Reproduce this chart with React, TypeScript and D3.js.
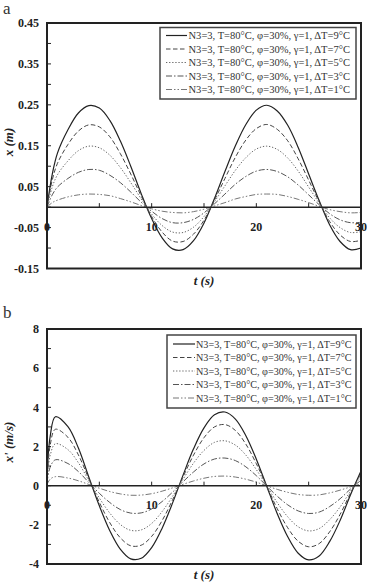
import React from "react";
import * as d3 from "d3";

// ---------- Data ----------
const TA = [0, 0.5, 1, 2, 3, 4, 5, 6, 7, 8, 9, 10, 11, 12, 13, 14, 15, 16, 17, 18, 19, 20, 21, 22, 23, 24, 25, 26, 27, 28, 29, 30];
const TB = [0, 0.3, 0.8, 2, 3, 4, 5, 6, 7, 8, 9, 10, 11, 12, 13, 14, 15, 16, 17, 18, 19, 20, 21, 22, 23, 24, 25, 26, 27, 28, 29, 30];

const LEGEND_LABELS = [
  "N3=3, T=80°C, φ=30%, γ=1, ΔT=9°C",
  "N3=3, T=80°C, φ=30%, γ=1, ΔT=7°C",
  "N3=3, T=80°C, φ=30%, γ=1, ΔT=5°C",
  "N3=3, T=80°C, φ=30%, γ=1, ΔT=3°C",
  "N3=3, T=80°C, φ=30%, γ=1, ΔT=1°C",
];

// displacement x (m)
const xDT9 = [0, 0.08, 0.132, 0.189, 0.23, 0.248, 0.242, 0.212, 0.162, 0.1, 0.033, -0.028, -0.075, -0.102, -0.104, -0.082, -0.039, 0.021, 0.087, 0.15, 0.202, 0.237, 0.249, 0.235, 0.2, 0.146, 0.081, 0.016, -0.043, -0.084, -0.104, -0.1];
const xDT7 = [0, 0.066, 0.107, 0.153, 0.186, 0.201, 0.196, 0.172, 0.131, 0.081, 0.027, -0.023, -0.061, -0.083, -0.084, -0.066, -0.032, 0.017, 0.07, 0.122, 0.164, 0.192, 0.202, 0.19, 0.162, 0.118, 0.066, 0.013, -0.035, -0.068, -0.084, -0.081];
const xDT5 = [0, 0.049, 0.079, 0.113, 0.138, 0.149, 0.145, 0.127, 0.097, 0.06, 0.02, -0.017, -0.045, -0.061, -0.062, -0.049, -0.023, 0.013, 0.052, 0.09, 0.121, 0.142, 0.149, 0.141, 0.12, 0.088, 0.049, 0.01, -0.026, -0.05, -0.062, -0.06];
const xDT3 = [0, 0.03, 0.049, 0.07, 0.085, 0.092, 0.09, 0.078, 0.06, 0.037, 0.012, -0.01, -0.028, -0.038, -0.038, -0.03, -0.014, 0.008, 0.032, 0.056, 0.075, 0.088, 0.092, 0.087, 0.074, 0.054, 0.03, 0.006, -0.016, -0.031, -0.038, -0.037];
const xDT1 = [0, 0.011, 0.017, 0.025, 0.03, 0.032, 0.031, 0.028, 0.021, 0.013, 0.004, -0.004, -0.01, -0.013, -0.014, -0.011, -0.005, 0.003, 0.011, 0.02, 0.026, 0.031, 0.032, 0.031, 0.026, 0.019, 0.011, 0.002, -0.006, -0.011, -0.014, -0.013];

// velocity x' (m/s)
const vDT9 = [0.4, 2.5, 3.52, 3.01, 1.92, 0.43, -1.03, -2.3, -3.24, -3.74, -3.71, -3.16, -2.17, -0.88, 0.54, 1.88, 2.95, 3.62, 3.76, 3.4, 2.55, 1.35, -0.04, -1.43, -2.61, -3.45, -3.79, -3.59, -2.86, -1.78, -0.46, 0.75];
const vDT7 = [0.33, 2.05, 2.88, 2.47, 1.57, 0.35, -0.85, -1.89, -2.66, -3.07, -3.04, -2.59, -1.78, -0.72, 0.45, 1.56, 2.45, 3.0, 3.12, 2.82, 2.12, 1.12, -0.03, -1.18, -2.15, -2.84, -3.12, -2.96, -2.36, -1.47, -0.38, 0.62];
const vDT5 = [0.24, 1.53, 2.14, 1.84, 1.17, 0.26, -0.63, -1.4, -1.98, -2.28, -2.26, -1.93, -1.32, -0.54, 0.33, 1.15, 1.8, 2.21, 2.29, 2.07, 1.56, 0.82, -0.02, -0.87, -1.59, -2.1, -2.31, -2.19, -1.74, -1.09, -0.28, 0.46];
const vDT3 = [0.15, 0.94, 1.32, 1.13, 0.72, 0.16, -0.39, -0.86, -1.22, -1.4, -1.39, -1.19, -0.81, -0.33, 0.2, 0.7, 1.11, 1.36, 1.41, 1.28, 0.96, 0.51, -0.02, -0.54, -0.98, -1.29, -1.42, -1.35, -1.07, -0.67, -0.17, 0.28];
const vDT1 = [0.05, 0.33, 0.46, 0.39, 0.25, 0.06, -0.13, -0.3, -0.42, -0.49, -0.48, -0.41, -0.28, -0.11, 0.07, 0.24, 0.38, 0.47, 0.49, 0.44, 0.33, 0.18, -0.01, -0.19, -0.34, -0.45, -0.49, -0.47, -0.37, -0.23, -0.06, 0.1];

const X_TICK_LABELS = [0, 10, 20, 30];
const X_MINOR_TICKS = [0, 5, 10, 15, 20, 25, 30];
const YA_TICK_LABELS = [0.45, 0.35, 0.25, 0.15, 0.05, -0.05, -0.15];
const YB_TICK_LABELS = [8, 6, 4, 2, 0, -2, -4];

// ---------- Styles ----------
const LINE_STYLES = [
  { dash: "none", color: "#222", width: 1.2 },
  { dash: "4.5,2.5", color: "#444", width: 1 },
  { dash: "1.3,1.8", color: "#666", width: 1 },
  { dash: "6,2,1.5,2", color: "#555", width: 1 },
  { dash: "6,2,1.5,2,1.5,2", color: "#777", width: 1 },
];

const SERIF = "Liberation Serif, Times New Roman, DejaVu Serif, serif";

type PanelProps = {
  letter: string;
  letterY: number;
  top: number;
  bottom: number;
  yDomain: [number, number];
  yLabels: number[];
  yMinorStep: number;
  yFmt: (v: number) => string;
  yTitle: string;
  yTitleY: number;
  xTitleY: number;
  t: number[];
  series: number[][];
  legend: { x0: number; x1: number; y0: number; y1: number; rows: number[]; sx0: number; sx1: number; tx: number; tw: number; fs: number };
};

const LEFT = 47;
const RIGHT = 361;

function Panel(p: PanelProps) {
  const x = d3.scaleLinear().domain([0, 30]).range([LEFT, RIGHT]);
  const y = d3.scaleLinear().domain(p.yDomain).range([p.bottom, p.top]);
  const line = d3
    .line<[number, number]>()
    .x((d) => x(d[0]))
    .y((d) => y(d[1]))
    .curve(d3.curveCatmullRom.alpha(0.5));
  const y0 = y(0);
  const minor = d3.range(p.yDomain[0], p.yDomain[1] + p.yMinorStep / 2, p.yMinorStep);
  return (
    <g>
      <text x={3} y={p.letterY} fontFamily={SERIF} fontSize={17} fill="#333">
        {p.letter}
      </text>
      {/* y tick labels */}
      {p.yLabels.map((v) => (
        <text key={"yl" + v} x={39} y={y(v)} dy="0.35em" textAnchor="end" fontFamily={SERIF} fontSize={12} fontWeight="bold" fill="#222">
          {p.yFmt(v)}
        </text>
      ))}
      {/* x tick labels */}
      {X_TICK_LABELS.map((v) => (
        <text key={"xl" + v} x={x(v)} y={y0 + 23.5} textAnchor="middle" fontFamily={SERIF} fontSize={12} fontWeight="bold" fill="#222">
          {v}
        </text>
      ))}
      {/* series */}
      {p.series.map((s, i) => (
        <path
          key={"s" + i}
          d={line(p.t.map((tv, j) => [tv, s[j]] as [number, number])) || ""}
          fill="none"
          stroke={LINE_STYLES[i].color}
          strokeWidth={LINE_STYLES[i].width}
          strokeDasharray={LINE_STYLES[i].dash}
        />
      ))}
      {/* zero line */}
      <line x1={LEFT} x2={RIGHT} y1={y0} y2={y0} stroke="#222" strokeWidth={1.5} />
      {X_MINOR_TICKS.map((v) => (
        <line key={"xt" + v} x1={x(v)} x2={x(v)} y1={y0} y2={y0 - 4} stroke="#222" strokeWidth={1} />
      ))}
      {minor.map((v, i) => (
        <line key={"yt" + i} x1={LEFT} x2={LEFT + 4} y1={y(v)} y2={y(v)} stroke="#222" strokeWidth={1} />
      ))}
      {/* frame */}
      <rect x={LEFT} y={p.top} width={RIGHT - LEFT} height={p.bottom - p.top} fill="none" stroke="#222" strokeWidth={2} />
      {/* legend */}
      <rect
        x={p.legend.x0}
        y={p.legend.y0}
        width={p.legend.x1 - p.legend.x0}
        height={p.legend.y1 - p.legend.y0}
        fill="#fff"
        stroke="#444"
        strokeWidth={1.5}
      />
      {LEGEND_LABELS.map((lab, i) => (
        <g key={"lg" + i}>
          <line
            x1={p.legend.sx0}
            x2={p.legend.sx1}
            y1={p.legend.rows[i]}
            y2={p.legend.rows[i]}
            stroke={LINE_STYLES[i].color}
            strokeWidth={LINE_STYLES[i].width}
            strokeDasharray={LINE_STYLES[i].dash}
          />
          <text
            x={p.legend.tx}
            y={p.legend.rows[i]}
            dy="0.35em"
            fontFamily={SERIF}
            fontSize={p.legend.fs}
            fill="#333"
            textLength={p.legend.tw}
            lengthAdjust="spacingAndGlyphs"
          >
            {lab}
          </text>
        </g>
      ))}
      {/* axis titles */}
      <text x={(LEFT + RIGHT) / 2} y={p.xTitleY} textAnchor="middle" fontFamily={SERIF} fontSize={13} fontWeight="bold" fontStyle="italic" fill="#222">
        t (s)
      </text>
      <text
        transform={`translate(13,${p.yTitleY}) rotate(-90)`}
        textAnchor="middle"
        fontFamily={SERIF}
        fontSize={13}
        fontWeight="bold"
        fontStyle="italic"
        fill="#222"
      >
        {p.yTitle}
      </text>
    </g>
  );
}

export default function App() {
  const fmtA = (v: number) => d3.format(".2f")(v).replace("−", "-");
  const fmtB = (v: number) => String(v);
  return (
    <svg width={367} height={584} style={{ position: "absolute", left: 0, top: 0, background: "#fff" }}>
      <rect width={367} height={584} fill="#fff" />
      <Panel
        letter="a"
        letterY={14}
        top={23}
        bottom={268.5}
        yDomain={[-0.15, 0.45]}
        yLabels={YA_TICK_LABELS}
        yMinorStep={0.05}
        yFmt={fmtA}
        yTitle="x (m)"
        yTitleY={142}
        xTitleY={285}
        t={TA}
        series={[xDT9, xDT7, xDT5, xDT3, xDT1]}
        legend={{ x0: 160, x1: 356, y0: 27.5, y1: 99, rows: [35.5, 49, 62.5, 76, 89.5], sx0: 166, sx1: 187, tx: 188.5, tw: 161.5, fs: 10.5 }}
      />
      <Panel
        letter="b"
        letterY={318}
        top={329}
        bottom={564}
        yDomain={[-4, 8]}
        yLabels={YB_TICK_LABELS}
        yMinorStep={1}
        yFmt={fmtB}
        yTitle="x' (m/s)"
        yTitleY={442}
        xTitleY={579}
        t={TB}
        series={[vDT9, vDT7, vDT5, vDT3, vDT1]}
        legend={{ x0: 167, x1: 356, y0: 335, y1: 408, rows: [344, 357.5, 371, 384.5, 398], sx0: 173, sx1: 195, tx: 196, tw: 155.5, fs: 10.2 }}
      />
    </svg>
  );
}
